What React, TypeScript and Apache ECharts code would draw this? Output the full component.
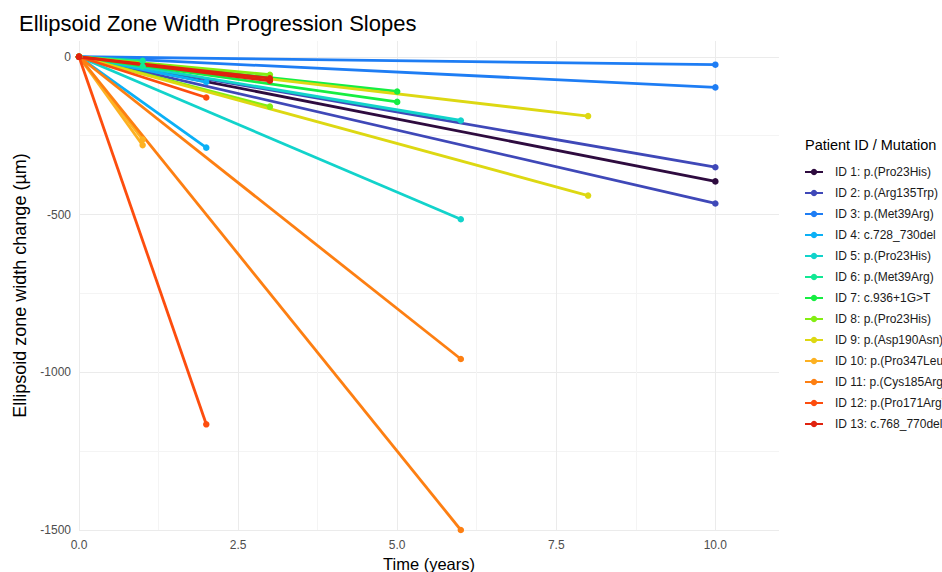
import React, { useEffect, useRef } from "react";
import * as echarts from "echarts";

const patients = [
  "ID 1: p.(Pro23His)",
  "ID 2: p.(Arg135Trp)",
  "ID 3: p.(Met39Arg)",
  "ID 4: c.728_730del",
  "ID 5: p.(Pro23His)",
  "ID 6: p.(Met39Arg)",
  "ID 7: c.936+1G>T",
  "ID 8: p.(Pro23His)",
  "ID 9: p.(Asp190Asn)",
  "ID 10: p.(Pro347Leu)",
  "ID 11: p.(Cys185Arg)",
  "ID 12: p.(Pro171Arg)",
  "ID 13: c.768_770del",
];
const colors = [
  "#2E0B3F", "#3F48B8", "#1E7DF4", "#0BB0F6", "#12D3CB", "#12E894", "#16EE42",
  "#84EE12", "#DDD812", "#FDB122", "#FD7F12", "#FD4D0E", "#E0220E",
];
const followUpYears = [10, 10, 10, 2, 6, 1, 5, 3, 8, 1, 6, 2, 3];
const changeEyeA = [-395, -350, -25, -80, -202, -13, -110, -57, -188, -262, -958, -129, -68];
const changeEyeB: (number | null)[] = [null, -465, -97, -288, -515, -31, -143, -158, -440, -280, -1500, -1165, -76];

const xTickStep = 1.25;
const yTickStep = 250;

const font = "Liberation Sans, Arial, sans-serif";

export default function App() {
  const ref = useRef<HTMLDivElement>(null);
  useEffect(() => {
    if (!ref.current) return;
    const chart = echarts.init(ref.current, undefined, { renderer: "svg" });
    const series: any[] = [];
    patients.forEach((name, i) => {
      [changeEyeA[i], changeEyeB[i]].forEach((v) => {
        if (v === null || v === undefined) return;
        series.push({
          type: "line",
          name,
          data: [
            [0, 0],
            [followUpYears[i], v],
          ],
          color: colors[i],
          lineStyle: { width: 2.8, color: colors[i] },
          itemStyle: { color: colors[i] },
          symbol: "circle",
          symbolSize: 6.5,
          showSymbol: true,
          clip: false,
        });
      });
    });
    const grid = "#EBEBEB";
    const minor = "#F4F4F4";
    chart.setOption({
      animation: false,
      textStyle: { fontFamily: font },
      title: {
        text: "Ellipsoid Zone Width Progression Slopes",
        left: 14,
        top: 7,
        textStyle: { fontSize: 22, fontWeight: "normal", color: "#000", fontFamily: font },
      },
      grid: { left: 79, right: 163, top: 41, bottom: 42, containLabel: false, outerBoundsMode: "none" },
      xAxis: {
        type: "value",
        min: 0,
        max: 11,
        interval: xTickStep,
        name: "Time (years)",
        nameLocation: "middle",
        nameGap: 20,
        nameTextStyle: { fontSize: 16.5, color: "#000", fontFamily: font },
        axisLine: { show: false },
        axisTick: { show: false },
        axisLabel: {
          fontSize: 12,
          color: "#4D4D4D",
          margin: 9,
          showMaxLabel: false,
          formatter: (v: number) => (Math.abs(v / 2.5 - Math.round(v / 2.5)) < 1e-6 ? v.toFixed(1) : ""),
        },
        splitLine: { show: true, showMaxLine: false, lineStyle: { color: [grid, minor], width: 1 } },
      },
      yAxis: {
        type: "value",
        min: -1500,
        max: 50,
        interval: yTickStep,
        name: "Ellipsoid zone width change (µm)",
        nameLocation: "middle",
        nameGap: 45,
        nameTextStyle: { fontSize: 18, color: "#000", fontFamily: font },
        axisLine: { show: false },
        axisTick: { show: false },
        axisLabel: {
          fontSize: 12,
          color: "#4D4D4D",
          margin: 8,
          showMaxLabel: false,
          formatter: (v: number) => (v % 500 === 0 ? String(v) : ""),
        },
        splitLine: { show: true, showMaxLine: false, lineStyle: { color: [grid, minor], width: 1 } },
      },
      legend: {
        orient: "vertical",
        left: 799,
        top: 161,
        itemWidth: 18,
        itemHeight: 8,
        itemGap: 9,
        data: patients,
        textStyle: { fontSize: 12, color: "#1A1A1A", fontFamily: font, padding: [0, 0, 0, 7] },
        selectedMode: false,
      },
      graphic: [
        {
          type: "text",
          left: 805,
          top: 137,
          style: { text: "Patient ID / Mutation", fontSize: 14.5, fill: "#000", fontFamily: font },
        },
      ],
      series,
    });
    return () => chart.dispose();
  }, []);
  return <div ref={ref} style={{ position: "absolute", left: 0, top: 0, width: 942, height: 572, background: "#fff" }} />;
}
